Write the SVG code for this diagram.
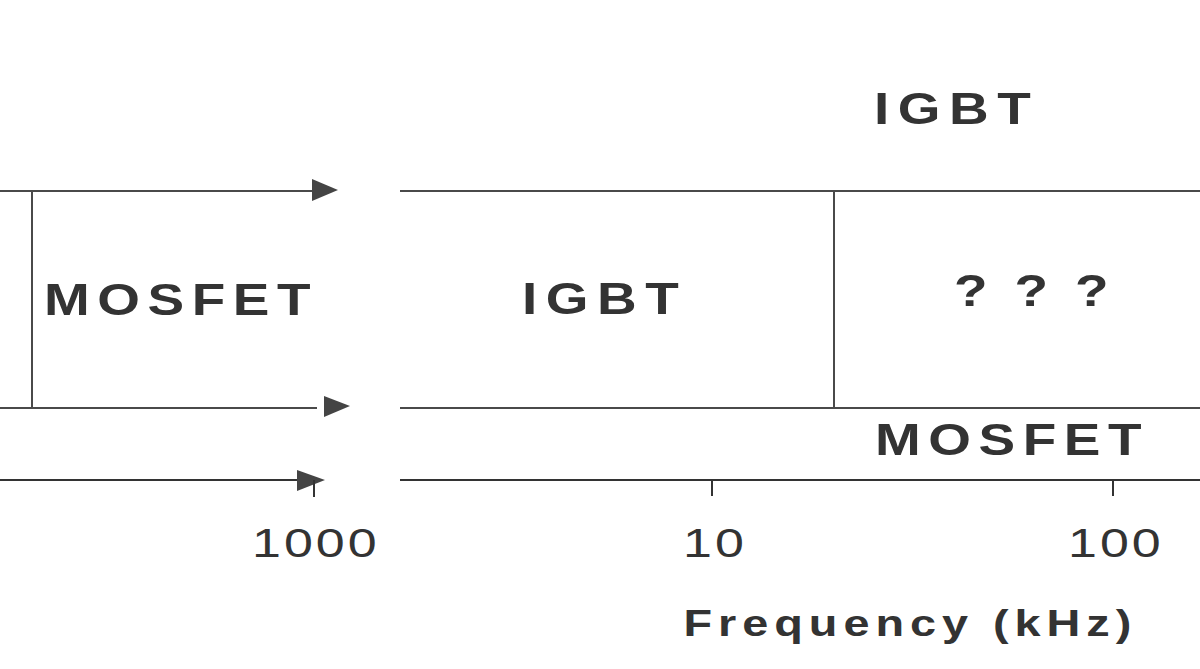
<svg xmlns="http://www.w3.org/2000/svg" width="1200" height="669" viewBox="0 0 1200 669">
<style>
.ln{stroke:#4a4a4a;stroke-width:2;fill:none}
.ax{stroke:#333;stroke-width:2;fill:none}
.ah{fill:#444;stroke:none}
.lbl{font-family:"Liberation Sans",Arial,sans-serif;font-weight:bold;font-size:45px;fill:#333;letter-spacing:7px}
.num{font-family:"Liberation Sans",Arial,sans-serif;font-size:40px;fill:#333;letter-spacing:2.3px}
.axt{font-family:"Liberation Sans",Arial,sans-serif;font-weight:bold;font-size:36px;fill:#333;letter-spacing:4.6px}
</style>
<rect width="1200" height="669" fill="#fff"/>
<g id="connectors">
<line class="ln" x1="0" y1="191" x2="314" y2="191"/>
<polygon class="ah" points="312,179 338,190 312,201"/>
<line class="ln" x1="0" y1="408" x2="317" y2="408"/>
<polygon class="ah" points="324,396 350,406 324,417"/>
<line class="ln" x1="32" y1="191" x2="32" y2="408"/>
<line class="ax" x1="0" y1="480" x2="300" y2="480"/>
<polygon class="ah" points="297,470 325,480 297,491"/>
<line class="ax" x1="314" y1="480" x2="314" y2="497"/>
<line class="ln" x1="400" y1="191" x2="1200" y2="191"/>
<line class="ln" x1="400" y1="408" x2="1200" y2="408"/>
<line class="ln" x1="834" y1="191" x2="834" y2="408"/>
<line class="ax" x1="400" y1="480" x2="1200" y2="480"/>
<line class="ax" x1="712" y1="480" x2="712" y2="496"/>
<line class="ax" x1="1113" y1="480" x2="1113" y2="496"/>
</g>
<g id="mosfet-left"><text class="lbl" transform="translate(44,315) scale(1.22,1)" style="letter-spacing:6.2px">MOSFET</text></g>
<g id="igbt-mid"><text class="lbl" transform="translate(522,314) scale(1.22,1)">IGBT</text></g>
<g id="unknown"><text class="lbl" transform="translate(954,306) scale(1.22,1)" style="letter-spacing:4.8px">? ? ?</text></g>
<g id="igbt-top"><text class="lbl" transform="translate(874,124) scale(1.22,1)">IGBT</text></g>
<g id="mosfet-bottom"><text class="lbl" transform="translate(875,455) scale(1.22,1)" style="letter-spacing:6.2px">MOSFET</text></g>
<g id="tick-1000"><text class="num" transform="translate(252,557) scale(1.3,1)">1000</text></g>
<g id="tick-10"><text class="num" transform="translate(683,557) scale(1.3,1)">10</text></g>
<g id="tick-100"><text class="num" transform="translate(1068,557) scale(1.3,1)">100</text></g>
<g id="axis-title"><text class="axt" transform="translate(683.5,636) scale(1.3,1)">Frequency (kHz)</text></g>
</svg>
